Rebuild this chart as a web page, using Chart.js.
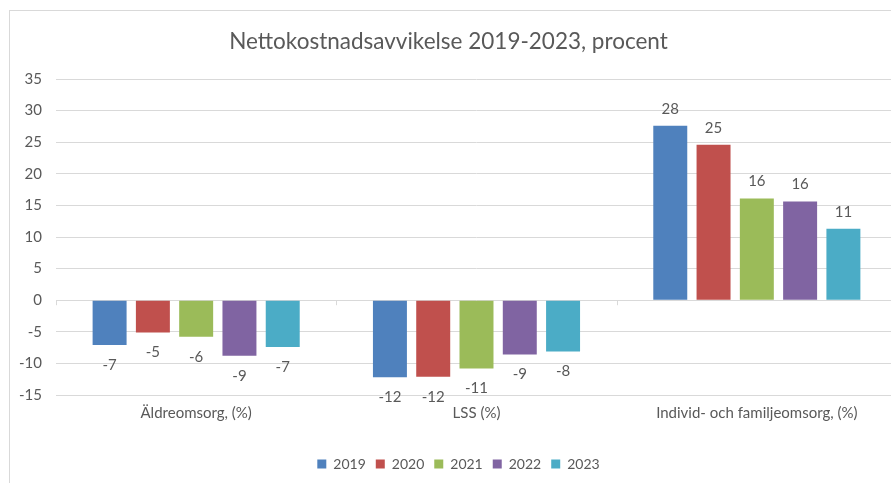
<!DOCTYPE html>
<html>
<head>
<meta charset="utf-8">
<script src="https://cdn.jsdelivr.net/npm/chart.js@4"></script>
<style>
  html, body { margin: 0; padding: 0; background: #fff; overflow: hidden; }
  #frame { position: absolute; left: 9px; top: 10px; width: 920px; height: 490px; border: 1px solid #d9d9d9; }
  #wrap { position: absolute; left: 0; top: 0; width: 910px; height: 483px; }
</style>
</head>
<body>
<div id="frame"></div>
<div id="wrap"><canvas id="chart"></canvas></div>
<script>
// データ
const categories = ['Äldreomsorg, (%)', 'LSS (%)', 'Individ- och familjeomsorg, (%)'];
const years = ['2019', '2020', '2021', '2022', '2023'];
const v2019 = [-7.1, -12.2, 27.6];
const v2020 = [-5.1, -12.1, 24.6];
const v2021 = [-5.8, -10.8, 16.1];
const v2022 = [-8.8, -8.6, 15.6];
const v2023 = [-7.4, -8.1, 11.3];
const yTicks = [35, 30, 25, 20, 15, 10, 5, 0, -5, -10, -15];
const colors = ['#4F81BD', '#C0504D', '#9BBB59', '#8064A2', '#4BACC6'];

const textColor = '#595959';
const fontFamily = 'Lato, "Open Sans", sans-serif';

// バーの値ラベル
const valueLabels = {
  id: 'valueLabels',
  afterDatasetsDraw(chart) {
    const ctx = chart.ctx;
    ctx.save();
    ctx.font = '15px ' + fontFamily;
    ctx.fillStyle = textColor;
    ctx.textAlign = 'center';
    ctx.textBaseline = 'middle';
    chart.data.datasets.forEach((ds, i) => {
      chart.getDatasetMeta(i).data.forEach((bar, j) => {
        const v = ds.data[j];
        const y = v >= 0 ? bar.y - 17 : bar.y + 20;
        ctx.fillText(String(Math.round(v)), bar.x, y);
      });
    });
    ctx.restore();
  }
};

// ゼロ線上の区切り目盛り
const zeroTicks = {
  id: 'zeroTicks',
  afterDraw(chart) {
    const { ctx, chartArea } = chart;
    const y0 = chart.scales.y.getPixelForValue(0);
    const w = chartArea.width / categories.length;
    ctx.save();
    ctx.strokeStyle = '#d9d9d9';
    ctx.lineWidth = 1;
    for (let i = 0; i <= categories.length; i++) {
      const x = Math.round(chartArea.left + i * w) + 0.5;
      ctx.beginPath();
      ctx.moveTo(x, y0);
      ctx.lineTo(x, y0 + 5);
      ctx.stroke();
    }
    ctx.restore();
  }
};

// 凡例を少し右へ
const legendShift = {
  id: 'legendShift',
  afterLayout(chart) {
    chart.legend.left += 10;
    chart.legend.right += 10;
  }
};

const series = [v2019, v2020, v2021, v2022, v2023];

new Chart(document.getElementById('chart'), {
  type: 'bar',
  data: {
    labels: categories,
    datasets: years.map((yr, i) => ({
      label: yr,
      data: series[i],
      backgroundColor: colors[i],
      categoryPercentage: 0.772,
      barPercentage: 0.785
    }))
  },
  options: {
    responsive: true,
    maintainAspectRatio: false,
    animation: false,
    devicePixelRatio: 1,
    layout: { padding: { top: 10, right: 13, bottom: 2, left: 0 } },
    plugins: {
      title: {
        display: true,
        text: 'Nettokostnadsavvikelse 2019-2023, procent',
        color: textColor,
        font: { family: fontFamily, size: 22.5, weight: 'normal' },
        padding: { top: 18, bottom: 24 }
      },
      legend: {
        position: 'bottom',
        labels: {
          color: textColor,
          font: { family: fontFamily, size: 14 },
          boxWidth: 9,
          boxHeight: 9,
          padding: 10
        }
      },
      tooltip: { enabled: false }
    },
    scales: {
      x: {
        grid: { display: false, drawTicks: false },
        border: { color: '#d9d9d9' },
        ticks: { color: textColor, font: { family: fontFamily, size: 15 }, padding: 9, maxRotation: 0 },
        afterFit(scale) { scale.height = 52; }
      },
      y: {
        min: -15,
        max: 35,
        afterBuildTicks(scale) { scale.ticks = yTicks.map(v => ({ value: v })); },
        grid: { color: '#d9d9d9', drawTicks: false },
        border: { display: false },
        ticks: { color: textColor, font: { family: fontFamily, size: 15 }, padding: 14 },
        afterFit(scale) { scale.width = 56; }
      }
    }
  },
  plugins: [valueLabels, zeroTicks, legendShift]
});
</script>
</body>
</html>
